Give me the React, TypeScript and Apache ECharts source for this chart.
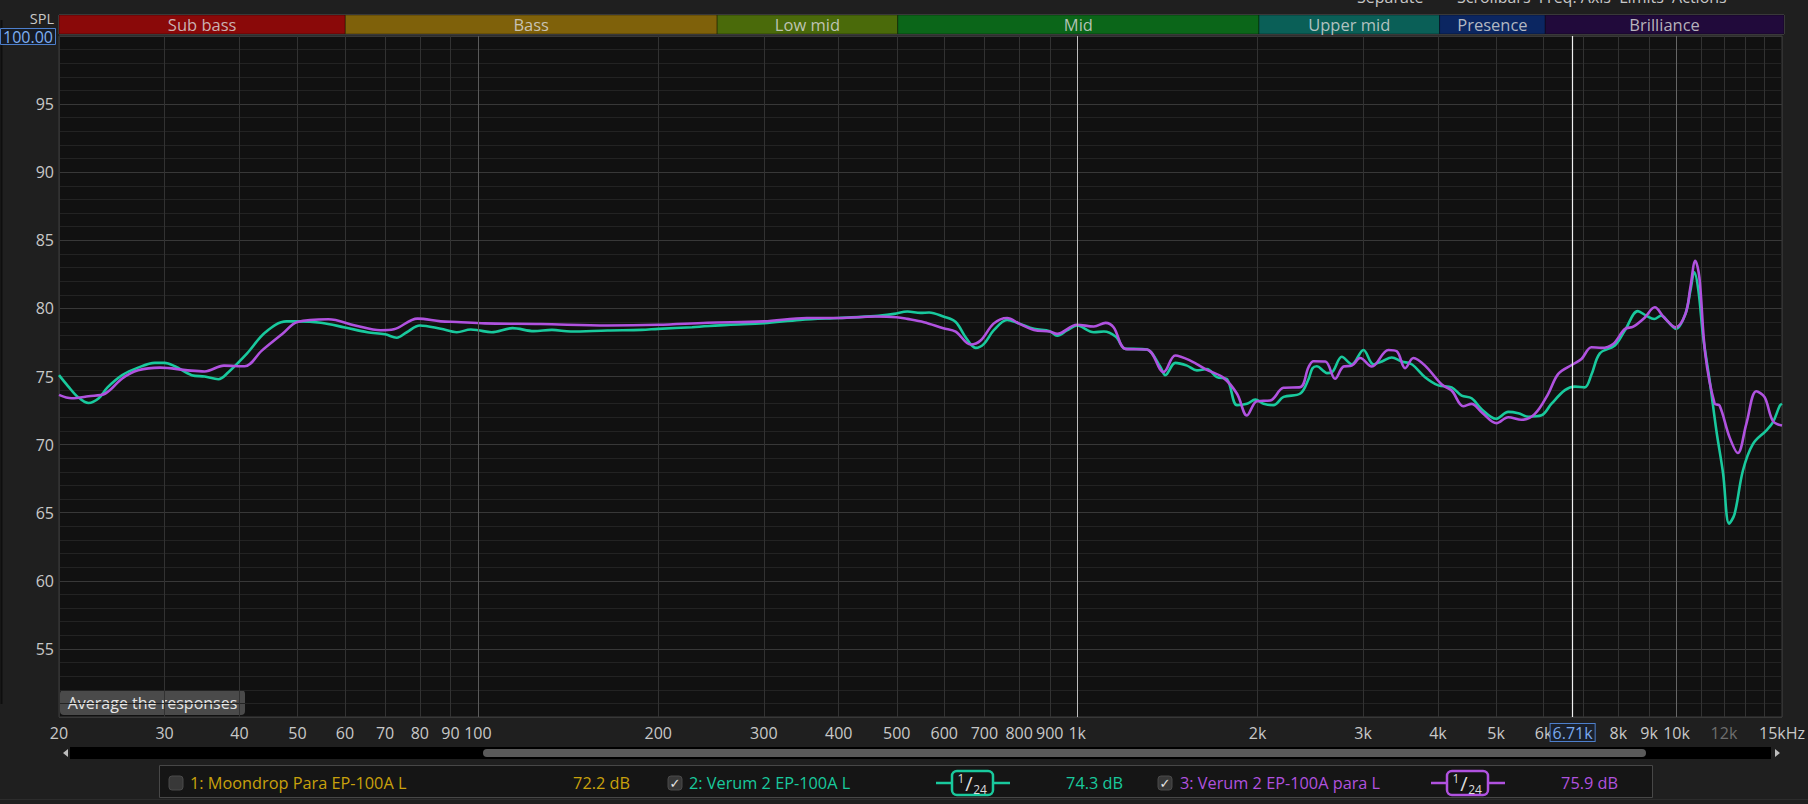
import React, { useEffect, useRef } from "react";
import * as echarts from "echarts";

const FONT = '"Open Sans", "Noto Sans", "DejaVu Sans", sans-serif';
const GREEN = "#19c99d";
const PURPLE = "#b052df";
const GOLD = "#c9a10c";
const TEXT = "#c8c8c8";

// Frequency bands shown in the strip above the plot
const bandNames = ["Sub bass", "Bass", "Low mid", "Mid", "Upper mid", "Presence", "Brilliance"];
const bandEdges = [20, 60, 250, 500, 2000, 4000, 6000, 15000];
const bandColors = ["#8a0909", "#7f610a", "#4a6a0a", "#0b6619", "#0a5f57", "#0b2661", "#210a3b"];

// X axis gridlines and labels (Hz)
const xGridValues = [20, 30, 40, 50, 60, 70, 80, 90, 100, 200, 300, 400, 500, 600, 700, 800, 900,
  1000, 2000, 3000, 4000, 5000, 6000, 7000, 8000, 9000, 10000, 11000, 12000, 13000, 14000, 15000];
const xLabelValues = [20, 30, 40, 50, 60, 70, 80, 90, 100, 200, 300, 400, 500, 600, 700, 800, 900,
  1000, 2000, 3000, 4000, 5000, 6000, 8000, 9000, 10000, 12000, 15000];
const cursorFreq = 6710;

// 2: Verum 2 EP-100A L
const verumFreq = [20, 20.7, 21.5, 22.4, 23.3, 24.1, 25.5, 27.1, 28.9, 30,
  31.2, 33.3, 35.0, 36.9, 38.3, 41.2, 44.2, 47.9, 50, 54.7,
  60, 65.4, 70, 73.2, 76.1, 80, 86.7, 92.2, 97.3, 100,
  105.4, 114.2, 124, 132.9, 142.8, 164.6, 187.5, 200, 227.8, 260.9,
  300, 345, 400, 460, 495, 521, 548, 566, 598, 627,
  651, 677, 699, 726, 764, 799, 847, 900, 926, 962,
  999, 1066, 1108, 1159, 1204, 1243, 1308, 1377, 1403, 1458,
  1525, 1584, 1646, 1711, 1778, 1848, 1920, 1983, 2047, 2126,
  2210, 2357, 2432, 2470, 2512, 2577, 2610, 2660, 2764, 2872,
  3004, 3121, 3224, 3348, 3480, 3616, 3806, 4006, 4216, 4380,
  4552, 4730, 4998, 5240, 5446, 5660, 5954, 6188, 6514, 6768,
  7032, 7214, 7450, 7890, 8200, 8620, 8900, 9180, 9430, 9690,
  9990, 10350, 10550, 10710, 10880, 11080, 11360, 11660, 11960, 12240,
  12500, 12910, 13420, 14130, 14490, 14870, 15000];
const verumSpl = [75.1, 74.3, 73.5, 73.05, 73.4, 74.2, 75.1, 75.65, 76.0, 76.0,
  75.75, 75.1, 75.0, 74.8, 75.3, 76.7, 78.25, 79.05, 79.05, 78.95,
  78.6, 78.25, 78.1, 77.85, 78.25, 78.75, 78.5, 78.25, 78.45, 78.4,
  78.25, 78.55, 78.33, 78.42, 78.3, 78.38, 78.42, 78.5, 78.62, 78.79,
  78.91, 79.16, 79.3, 79.43, 79.6, 79.77, 79.67, 79.7, 79.4, 79.0,
  77.9, 77.1, 77.4, 78.4, 79.15, 78.9, 78.5, 78.33, 78.0, 78.38,
  78.74, 78.25, 78.3, 77.93, 77.03, 77.03, 76.98, 75.7, 75.1, 76.0,
  75.8, 75.45, 75.55, 74.95, 74.8, 72.9, 73.0, 73.3, 73.0, 72.9,
  73.5, 73.75, 74.8, 75.6, 75.75, 75.4, 75.25, 75.3, 76.45, 75.9,
  76.95, 75.9, 76.1, 76.4, 76.1, 75.9, 74.95, 74.35, 74.2, 73.6,
  73.4, 72.6, 71.9, 72.4, 72.3, 72.05, 72.15, 73.0, 74.0, 74.26,
  74.2, 75.15, 76.7, 77.27, 78.37, 79.8, 79.47, 79.22, 79.47, 79.0,
  78.5, 79.6, 81.3, 82.65, 81.3, 77.9, 74.7, 71.0, 67.9, 64.2,
  64.9, 68.1, 70.05, 71.05, 71.65, 72.85, 73.0];

// 3: Verum 2 EP-100A para L
const paraFreq = [20, 21, 22.4, 23.9, 25.5, 27.1, 29.5, 32.8, 35.0, 37.7,
  40.8, 43.6, 47.1, 50, 56.3, 62.4, 68.8, 72.4, 79.3, 86.7,
  92.2, 102.7, 127.4, 164.6, 200, 241.7, 300, 354, 400, 460,
  500, 521, 555, 598, 627, 664, 690, 726, 764, 799,
  847, 900, 926, 999, 1066, 1115, 1150, 1204, 1308, 1394,
  1458, 1544, 1646, 1755, 1848, 1920, 1995, 2100, 2210, 2357,
  2432, 2480, 2594, 2694, 2782, 2872, 2967, 3102, 3306, 3414,
  3526, 3640, 3806, 4058, 4216, 4408, 4552, 4730, 5010, 5240,
  5516, 5804, 6109, 6350, 6706, 6942, 7214, 7497, 7841, 8200,
  8470, 8840, 9200, 9530, 9960, 10350, 10550, 10750, 10920, 11170,
  11580, 11800, 12260, 12660, 13080, 13590, 14030, 14490, 15000];
const paraSpl = [73.65, 73.4, 73.55, 73.75, 74.85, 75.45, 75.65, 75.45, 75.37, 75.8,
  75.75, 76.9, 78.1, 79.0, 79.2, 78.75, 78.4, 78.47, 79.25, 79.05,
  79.0, 78.9, 78.85, 78.75, 78.8, 78.95, 79.05, 79.3, 79.3, 79.4,
  79.35, 79.23, 78.99, 78.55, 78.3, 77.35, 77.64, 78.9, 79.3, 78.9,
  78.42, 78.3, 78.13, 78.8, 78.67, 78.94, 78.62, 77.03, 76.98, 75.32,
  76.54, 76.17, 75.49, 74.9, 73.73, 72.14, 73.19, 73.24, 74.17, 74.22,
  75.68, 76.12, 76.1, 74.83, 75.73, 75.8, 76.36, 75.73, 76.95, 76.85,
  75.61, 76.36, 75.8, 74.41, 73.97, 72.82, 72.99, 72.38, 71.57, 72.01,
  71.82, 72.26, 73.73, 75.19, 75.88, 76.29, 77.15, 77.1, 77.39, 78.49,
  78.66, 79.3, 80.08, 79.35, 78.61, 79.59, 81.55, 83.5, 82.28, 76.66,
  73.0, 72.87, 70.55, 69.38, 71.53, 73.92, 73.48, 71.72, 71.4];

// Legend rows
const legendNames = ["1: Moondrop Para EP-100A L", "2: Verum 2 EP-100A L", "3: Verum 2 EP-100A para L"];
const legendLevels = ["72.2 dB", "74.3 dB", "75.9 dB"];
const legendColors = [GOLD, GREEN, PURPLE];
const legendChecked = [false, true, true];

const txt = (x: number, y: number, text: string, fill: string, size: number, align = "left", vAlign = "middle", extra: any = {}) => ({
  type: "text", x, y, silent: true,
  style: { text, fill, fontSize: size, fontFamily: FONT, align, verticalAlign: vAlign, ...extra },
});

function checkbox(x: number, y: number, checked: boolean) {
  const children: any[] = [
    { type: "rect", shape: { x, y, width: 14, height: 14, r: 3 }, style: { fill: "#383838", stroke: "#4a4a4a", lineWidth: 1 } },
  ];
  if (checked) children.push({ type: "text", x: x + 7, y: y + 7.5, style: { text: "✓", fill: "#e6e6e6", fontSize: 13, fontFamily: '"DejaVu Sans", sans-serif', align: "center", verticalAlign: "middle" } });
  return { type: "group", silent: true, children };
}

function smoothIcon(x0: number, color: string) {
  const cy = 783;
  return {
    type: "group", silent: true, children: [
      { type: "line", shape: { x1: x0, y1: cy, x2: x0 + 16, y2: cy }, style: { stroke: color, lineWidth: 2.5 } },
      { type: "line", shape: { x1: x0 + 57, y1: cy, x2: x0 + 74, y2: cy }, style: { stroke: color, lineWidth: 2.5 } },
      { type: "rect", shape: { x: x0 + 16, y: 771, width: 41, height: 24, r: 5 }, style: { fill: "#141414", stroke: color, lineWidth: 2.5 } },
      txt(x0 + 25, 778, "1", "#dddddd", 12, "center"),
      txt(x0 + 33, 783, "/", "#dddddd", 20, "center"),
      txt(x0 + 44, 789, "24", "#dddddd", 12, "center"),
    ],
  };
}

function buildOption() {
  const verumData = verumFreq.map((f, i) => [f, verumSpl[i]]);
  const paraData = paraFreq.map((f, i) => [f, paraSpl[i]]);
  const bandData = bandNames.map((n, i) => [bandEdges[i], bandEdges[i + 1], i]);

  const legendX = [[169, 190, 630], [668, 689, 1123], [1158, 1180, 1618]];
  const legendGraphics: any[] = [
    { type: "rect", silent: true, shape: { x: 159.5, y: 765.5, width: 1493, height: 32 }, style: { fill: "#151515", stroke: "#474747", lineWidth: 1 } },
  ];
  legendNames.forEach((n, i) => {
    legendGraphics.push(checkbox(legendX[i][0], 776, legendChecked[i]));
    legendGraphics.push(txt(legendX[i][1], 783, n, legendColors[i], 16.3));
    legendGraphics.push(txt(legendX[i][2], 783, legendLevels[i], legendColors[i], 16.3, "right"));
  });
  legendGraphics.push(smoothIcon(936, GREEN));
  legendGraphics.push(smoothIcon(1431, PURPLE));

  return {
    animation: false,
    backgroundColor: "#1f1f1f",
    textStyle: { fontFamily: FONT },
    grid: [
      { left: 59, right: 24, top: 36, bottom: 87, show: true, backgroundColor: "#111111", borderColor: "#3c3c3c", borderWidth: 1 },
      { left: 59, right: 24, top: 15, height: 19, show: true, backgroundColor: "transparent", borderColor: "#6e6e6e", borderWidth: 1 },
    ],
    xAxis: [
      {
        type: "log", logBase: 10, min: 20, max: 15000, gridIndex: 0,
        axisLine: { show: false },
        axisTick: { show: false, customValues: xGridValues },
        axisLabel: {
          customValues: xLabelValues, color: TEXT, fontSize: 16, fontFamily: FONT, margin: 8,
          formatter: (v: number) => {
            const r = Math.round(v);
            if (r === 12000) return "{dim|12k}";
            if (r === 15000) return "15kHz";
            if (r >= 1000) return r / 1000 + "k";
            return String(r);
          },
          rich: { dim: { color: "#6e6e6e", fontSize: 16, fontFamily: FONT } },
        },
        splitLine: { show: true, lineStyle: { color: "#323232", width: 1 } },
      },
      { type: "log", logBase: 10, min: 20, max: 15000, gridIndex: 1, show: false },
    ],
    yAxis: [
      {
        type: "value", min: 50, max: 100, interval: 5, gridIndex: 0,
        axisLine: { show: false }, axisTick: { show: false },
        axisLabel: { color: TEXT, fontSize: 16, fontFamily: FONT, margin: 5, formatter: (v: number) => (v === 50 || v === 100 ? "" : String(v)) },
        splitLine: { show: true, lineStyle: { color: "#383838", width: 1 } },
        minorTick: { show: false, splitNumber: 5 },
        minorSplitLine: { show: true, lineStyle: { color: "#232323", width: 1 } },
      },
      { type: "value", min: 0, max: 1, gridIndex: 1, show: false },
    ],
    series: [
      {
        type: "custom", xAxisIndex: 1, yAxisIndex: 1, silent: true, data: bandData, encode: { x: [0, 1] },
        renderItem: (params: any, api: any) => {
          const i = params.dataIndex;
          const p0 = api.coord([api.value(0), 1]);
          const p1 = api.coord([api.value(1), 0]);
          return {
            type: "rect",
            shape: { x: p0[0], y: p0[1], width: p1[0] - p0[0], height: p1[1] - p0[1] },
            style: { fill: bandColors[i], stroke: "rgba(0,0,0,0.35)", lineWidth: 1 },
            textContent: { style: { text: bandNames[i], fill: "rgba(218,218,218,0.82)", fontSize: 16.5, fontFamily: FONT } },
            textConfig: { position: "inside" },
          };
        },
      },
      {
        type: "line", xAxisIndex: 0, yAxisIndex: 0, data: [], silent: true, z: 1,
        markLine: {
          silent: true, symbol: ["none", "none"], animation: false,
          label: { show: false },
          data: [
            { xAxis: 100, lineStyle: { color: "#5a5a5a", width: 1, type: "solid" } },
            { xAxis: 10000, lineStyle: { color: "#666666", width: 1, type: "solid" } },
            { xAxis: 1000, lineStyle: { color: "#bdbdbd", width: 1, type: "solid" } },
          ],
        },
      },
      {
        name: "2: Verum 2 EP-100A L", type: "line", xAxisIndex: 0, yAxisIndex: 0, data: verumData,
        smooth: 0.35, symbol: "none", z: 3, lineStyle: { color: GREEN, width: 2.6 },
      },
      {
        name: "3: Verum 2 EP-100A para L", type: "line", xAxisIndex: 0, yAxisIndex: 0, data: paraData,
        smooth: 0.35, symbol: "none", z: 4, lineStyle: { color: PURPLE, width: 2.6 },
      },
      {
        type: "line", xAxisIndex: 0, yAxisIndex: 0, data: [], silent: true, z: 6,
        markLine: {
          silent: true, symbol: ["none", "none"], animation: false,
          data: [
            {
              xAxis: cursorFreq, lineStyle: { color: "#efefef", width: 1.2, type: "solid" },
              label: {
                show: true, position: "start", distance: 7, formatter: "6.71k", color: "#79a9ee", fontSize: 16, fontFamily: FONT,
                backgroundColor: "#1a202b", borderColor: "#4d7fcc", borderWidth: 1, padding: [1, 2, 0, 2],
              },
            },
          ],
        },
      },
    ],
    graphic: [
      // window chrome around the plot
      { type: "line", silent: true, shape: { x1: 1.5, y1: 20, x2: 1.5, y2: 704 }, style: { stroke: "#0e0e0e", lineWidth: 2 } },
      txt(1357, 5, "Separate", TEXT, 16, "left", "bottom"),
      txt(1457, 5, "Scrollbars  Freq. Axis  Limits  Actions", TEXT, 16, "left", "bottom"),
      txt(54, 18, "SPL", TEXT, 14.5, "right"),
      { type: "rect", silent: true, shape: { x: 0.5, y: 28.5, width: 55, height: 16 }, style: { fill: "#161b24", stroke: "#4d7fcc", lineWidth: 1 } },
      txt(28, 37, "100.00", "#7eaff2", 16, "center"),
      // Average button
      { type: "rect", silent: true, shape: { x: 60, y: 690, width: 185, height: 25, r: 4 }, style: { fill: "#4a4a4a" } },
      txt(152.5, 702.5, "Average the responses", "#e6e6e6", 16, "center"),
      // scrollbar
      { type: "rect", silent: true, shape: { x: 70, y: 747, width: 1701, height: 12 }, style: { fill: "#000000" } },
      { type: "rect", silent: true, shape: { x: 483, y: 749, width: 1163, height: 8, r: 4 }, style: { fill: "#5a5a5a" } },
      { type: "polygon", silent: true, shape: { points: [[68, 749], [68, 757], [63, 753]] }, style: { fill: "#bdbdbd" } },
      { type: "polygon", silent: true, shape: { points: [[1775, 749], [1775, 757], [1780, 753]] }, style: { fill: "#bdbdbd" } },
      // legend
      ...legendGraphics,
      // status bar edge
      { type: "line", silent: true, shape: { x1: 0, y1: 799.5, x2: 1808, y2: 799.5 }, style: { stroke: "#2c2c2c", lineWidth: 1 } },
    ],
  };
}

export default function App() {
  const ref = useRef<HTMLDivElement>(null);
  useEffect(() => {
    document.body.style.margin = "0";
    document.body.style.background = "#1f1f1f";
    document.body.style.overflow = "hidden";
    const chart = echarts.init(ref.current!, null, { renderer: "svg" });
    chart.setOption(buildOption() as any);
    return () => chart.dispose();
  }, []);
  return <div ref={ref} style={{ width: 1808, height: 804 }} />;
}
